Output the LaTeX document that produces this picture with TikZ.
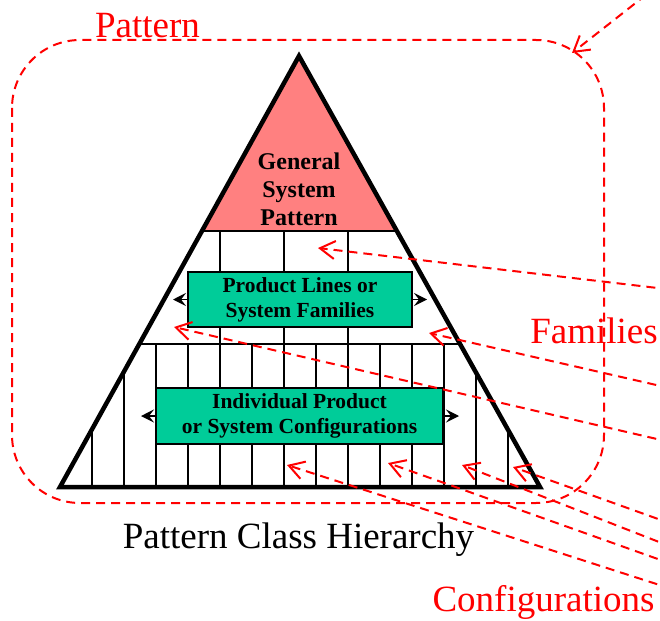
\documentclass[tikz,border=0pt]{standalone}
\usepackage{fontspec}
\setmainfont{Liberation Serif}
\usetikzlibrary{arrows.meta}
\definecolor{pinkfill}{RGB}{255,128,128}
\definecolor{greenfill}{RGB}{0,204,153}
\begin{document}
\begin{tikzpicture}[x=1pt,y=-1pt,
  redline/.style={red, line width=2pt, dash pattern=on 9pt off 6pt},
  redarrow/.style={redline, -{Straight Barb[length=15pt,width=18pt,line width=2pt]}},
  gridline/.style={black, line width=2pt},
  outline/.style={black, line width=4.5pt, line join=miter},
  greenbox/.style={draw=black, line width=2pt, fill=greenfill, align=center, inner sep=0pt,
     font=\fontsize{21.5}{25}\selectfont\bfseries},
  toptext/.style={align=center, inner sep=0pt, font=\fontsize{24}{28}\selectfont\bfseries},
  redlabel/.style={red, inner sep=0pt, font=\fontsize{37}{44}\selectfont},
  caption/.style={black, inner sep=0pt, font=\fontsize{37}{44}\selectfont},
  boxarrow/.style={black, line width=1.5pt, -{Stealth[length=13pt,width=13pt,inset=5pt]}}]
\useasboundingbox (0,0) rectangle (660,620);
% triangle corners
\coordinate (apex) at (299,56);
\coordinate (bl) at (60,487);
\coordinate (br) at (540,487);
% pink top
\fill[pinkfill] (apex) -- (202.5,231) -- (395.5,231) -- cycle;
% grid inside triangle
\begin{scope}
  \clip (apex) -- (bl) -- (br) -- cycle;
  \draw[gridline] (0,231) -- (660,231);
  \draw[gridline] (0,344) -- (660,344);
  \foreach \x in {220,284,348} \draw[gridline] (\x,231) -- (\x,344);
  \foreach \k in {0,...,13} \draw[gridline] ({92+32*\k},344) -- ({92+32*\k},487);
  \foreach \k in {0,1,12,13} \draw[gridline] ({92+32*\k},200) -- ({92+32*\k},487);
\end{scope}
% boxes
\node[greenbox, minimum width=224pt, minimum height=55pt] (plbox) at (300,299.5) {Product Lines or\\System Families};
\node[greenbox, minimum width=287pt, minimum height=56pt] (ipbox) at (299.5,416) {Individual Product\\or System Configurations};
\node[toptext] (gsp) at (299,189) {General\\System\\Pattern};
% small black arrows
\coordinate (plL) at (173,299.5);
\coordinate (plR) at (427,299.5);
\coordinate (ipL) at (141,416);
\coordinate (ipR) at (459,416);
\draw[boxarrow] (plbox.west) -- (plL);
\draw[boxarrow] (plbox.east) -- (plR);
\draw[boxarrow] (ipbox.west) -- (ipL);
\draw[boxarrow] (ipbox.east) -- (ipR);
% triangle outline
\draw[outline] (apex) -- (bl) -- (br) -- cycle;
% red dashed rounded frame
\draw[redline, rounded corners=68pt] (12,40) rectangle (604,503);
% labels
\node[redlabel, anchor=base] (patlbl) at (147.5,38) {Pattern};
\node[redlabel, anchor=base] (famlbl) at (594,343) {Families};
\node[redlabel, anchor=base] (conflbl) at (543.5,611) {Configurations};
\node[caption, anchor=base] (caplbl) at (298.5,548) {Pattern Class Hierarchy};
% red arrows
\coordinate (pS) at (670,-24);   \coordinate (pT) at (572,53);
\coordinate (f1S) at (700,293);  \coordinate (f1T) at (318,248);
\coordinate (f2S) at (700,395);  \coordinate (f2T) at (429,333);
\coordinate (f3S) at (700,449);  \coordinate (f3T) at (174,327);
\coordinate (c1S) at (700,598);  \coordinate (c1T) at (287,465);
\coordinate (c2S) at (700,574);  \coordinate (c2T) at (388,463);
\coordinate (c3S) at (700,558);  \coordinate (c3T) at (462,465);
\coordinate (c4S) at (700,534);  \coordinate (c4T) at (513,467);
\foreach \a in {p,f1,f2,f3,c1,c2,c3,c4} \draw[redarrow] (\a S) -- (\a T);
\end{tikzpicture}
\end{document}
